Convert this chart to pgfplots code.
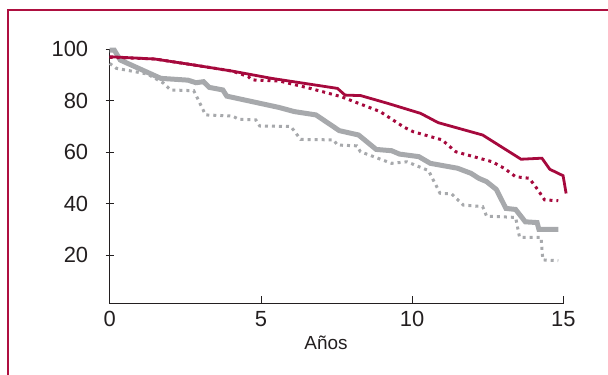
\documentclass[border=0pt]{standalone}
\usepackage{pgfplots}
\pgfplotsset{compat=1.18}
\usepackage{fontspec}
\setmainfont{Liberation Sans}
\definecolor{crim}{HTML}{A6093D}
\definecolor{frame}{HTML}{AE0F40}
\definecolor{gr}{HTML}{A7A9AC}
\definecolor{ax}{HTML}{231F20}
\begin{document}
\begin{tikzpicture}
\useasboundingbox (0bp,0bp) rectangle (608bp,375bp);
\draw[frame, line width=2.4bp] (7.9bp,-20bp) rectangle (640bp,365bp);
\begin{axis}[
  at={(109.7bp,71.3bp)}, anchor=south west,
  scale only axis, width=453.7bp, height=254.7bp,
  xmin=0, xmax=15, ymin=1.1, ymax=100,
  axis lines=left, axis line style={-, ax, line width=0.8bp},
  clip=false,
  xtick={0,5,10,15}, ytick={20,40,60,80,100},
  x tick style={ax, line width=0.8bp}, y tick style={ax, line width=0.8bp},
  xtick align=inside, ytick align=center,
  major tick length=8bp,
  /pgf/number format/assume math mode=true,
  tick label style={font=\fontsize{22}{26}\selectfont, text=ax},
  xticklabel style={yshift=-4bp},
  yticklabel style={xshift=-14bp},
  xlabel={Años}, xlabel style={font=\fontsize{19}{22}\selectfont, text=ax, at={(axis cs:7.15,1.1)}, anchor=north, yshift=-29bp},
]
\addplot[gr, line width=3bp, dash pattern=on 3bp off 4bp] coordinates {
(0,94.4)(0.22,92.5)(1.24,90.3)(1.76,86.9)(2.01,84.1)(2.78,83.8)(3.17,74.4)(4.06,74.0)(4.26,72.7)(4.83,72.5)(4.96,70.1)(5.99,69.9)(6.31,64.9)(7.4,64.7)(7.53,62.7)(8.17,62.4)(8.29,60.1)(9.32,55.6)(9.83,56.2)(10.35,53.7)(10.54,52.8)(10.92,44.0)(11.31,43.7)(11.69,39.4)(12.33,38.8)(12.46,35.1)(13.42,34.6)(13.55,26.9)(14.26,26.9)(14.32,18.1)(14.83,17.8)};
\addplot[gr, line width=5bp] coordinates {
(0,99.6)(0.15,99.6)(0.35,95.7)(1.69,88.6)(2.59,87.9)(2.85,86.9)(3.1,87.3)(3.29,85.1)(3.74,84.1)(3.87,81.7)(5.6,77.3)(6.1,75.7)(6.82,74.4)(7.59,68.3)(8.23,66.6)(8.81,61.0)(9.32,60.5)(9.58,59.2)(10.22,58.2)(10.6,55.6)(11.5,53.7)(11.95,51.7)(12.2,49.8)(12.46,48.5)(12.78,45.5)(13.1,38.1)(13.42,37.7)(13.74,32.9)(14.13,32.6)(14.19,30.0)(14.83,30.0)};
\addplot[crim, line width=3bp, dash pattern=on 3bp off 4bp] coordinates {
(0,96.8)(1.5,96.1)(2.78,93.8)(4.06,91.4)(4.58,89.3)(4.7,88.0)(5.6,87.6)(6.63,84.7)(7.65,81.5)(8.94,75.7)(9.71,69.8)(10.03,67.9)(10.99,64.7)(11.44,60.1)(12.65,56.2)(13.04,53.7)(13.42,50.4)(13.87,49.8)(14.12,45.9)(14.38,41.4)(14.83,41.1)};
\addplot[crim, line width=2.8bp] coordinates {
(0,97.0)(1.5,96.1)(2.78,93.8)(4.06,91.4)(5.35,88.6)(7.53,84.7)(7.78,82.1)(8.3,81.9)(9.19,78.9)(10.28,75.0)(10.86,71.4)(12.33,66.6)(13.6,57.2)(14.29,57.6)(14.55,53.3)(14.99,50.8)(15.09,43.9)};
\end{axis}
\end{tikzpicture}
\end{document}
